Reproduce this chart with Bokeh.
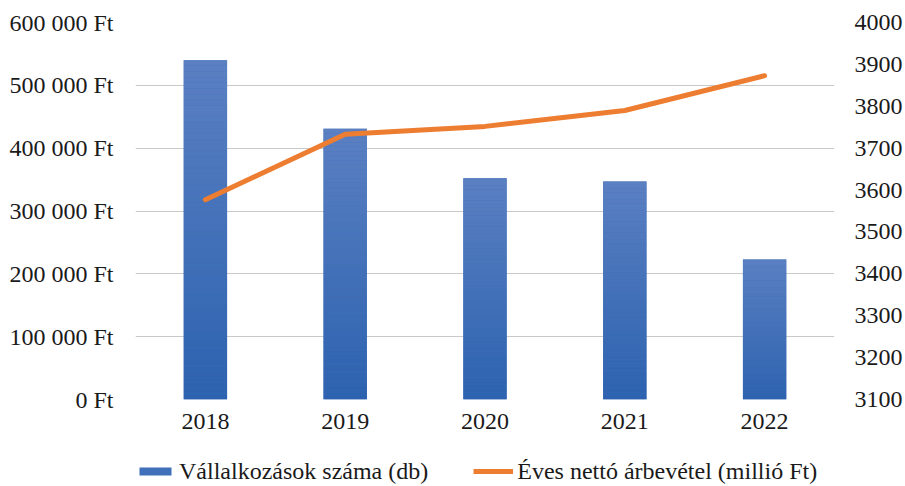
from bokeh.plotting import figure
from bokeh.models import (Range1d, LinearAxis, FixedTicker, Legend, LegendItem,
                          ColumnDataSource, FactorRange)
from bokeh.layouts import column
from bokeh.embed import file_html
from bokeh.resources import INLINE

# ---- data ----
years = ["2018", "2019", "2020", "2021", "2022"]
businesses = [540000, 431000, 352000, 347000, 223000]
revenue = [3577, 3733, 3752, 3790, 3873]
left_ticks = [0, 100000, 200000, 300000, 400000, 500000, 600000]
left_tick_labels = ["0 Ft", "100 000 Ft", "200 000 Ft", "300 000 Ft",
                    "400 000 Ft", "500 000 Ft", "600 000 Ft"]
right_ticks = [3100, 3200, 3300, 3400, 3500, 3600, 3700, 3800, 3900, 4000]
bar_label = "Vállalkozások száma (db)"
line_label = "Éves nettó árbevétel (millió Ft)"

FONT = "Liberation Serif"
FS = "24px"
TXT = "#1a1a1a"
BAR_C = "#4170bb"
LINE_C = "#ED7D31"

p = figure(width=905, height=446,
           x_range=FactorRange(*years, range_padding=0),
           y_range=Range1d(0, 600000),
           output_backend="svg", toolbar_location=None,
           min_border_left=135, min_border_right=71,
           min_border_top=22, min_border_bottom=47)
p.outline_line_color = None
p.background_fill_color = "white"
p.border_fill_color = "white"

# solid base bars
p.vbar(x=years, top=businesses, width=0.31, fill_color="#4470b9", line_color=None)

# gradient overlay built from slices of each bar's value
n = 60
top_rgb = (0x5b, 0x80, 0xc2)
bot_rgb = (0x2c, 0x62, 0xaf)
xs, bots, tops, cols = [], [], [], []
for yr, v in zip(years, businesses):
    for i in range(n):
        t = (i + 0.5) / n
        c = tuple(int(round(b + (a - b) * t)) for a, b in zip(top_rgb, bot_rgb))
        xs.append(yr)
        bots.append(v * i / n)
        tops.append(v * (i + 1) / n)
        cols.append("#%02x%02x%02x" % c)
src = ColumnDataSource(dict(x=xs, bottom=bots, top=tops, color=cols))
p.vbar(x="x", bottom="bottom", top="top", width=0.31, source=src,
       fill_color="color", line_color=None)

# right axis
p.extra_y_ranges = {"right": Range1d(3100, 4000)}
p.line(years, revenue, y_range_name="right", line_color=LINE_C,
       line_width=5, line_cap="round", line_join="round")

# axes
p.yaxis.ticker = FixedTicker(ticks=left_ticks)
p.yaxis.major_label_overrides = {t: l for t, l in zip(left_ticks, left_tick_labels)}
ra = LinearAxis(y_range_name="right", ticker=FixedTicker(ticks=right_ticks))
p.add_layout(ra, "right")

for ax in [p.yaxis[0], ra, p.xaxis[0]]:
    ax.axis_line_color = None
    ax.major_tick_line_color = None
    ax.minor_tick_line_color = None
    ax.major_tick_out = 0
    ax.major_tick_in = 0
    ax.minor_tick_out = 0
    ax.minor_tick_in = 0
    ax.major_label_text_font = FONT
    ax.major_label_text_font_size = FS
    ax.major_label_text_color = TXT
p.yaxis[0].major_label_standoff = 22
ra.major_label_standoff = 20
p.xaxis.major_label_standoff = 14

p.xgrid.grid_line_color = None
p.ygrid.grid_line_color = "#c9c9c9"
p.ygrid.grid_line_width = 1.2

# legend strip below the chart (legend renderers sit below the visible range)
lf = figure(width=905, height=40, x_range=Range1d(0, 1), y_range=Range1d(0, 1),
            x_axis_type=None, y_axis_type=None,
            output_backend="svg", toolbar_location=None,
            min_border=0, min_border_left=112, min_border_right=71,
            min_border_top=0, min_border_bottom=0)
lf.outline_line_color = None
lf.border_fill_color = "white"
lf.background_fill_color = "white"
lf.xgrid.grid_line_color = None
lf.ygrid.grid_line_color = None
lb = lf.vbar(x=[0.5], bottom=[-20], top=[-19], width=0.3, fill_color=BAR_C, line_color=None)
ll = lf.line(x=[0.2, 0.8], y=[-20, -20], line_color=LINE_C, line_width=5)

legend = Legend(items=[LegendItem(label=bar_label, renderers=[lb]),
                       LegendItem(label=line_label, renderers=[ll])],
                orientation="horizontal", location=(0, 1),
                border_line_color=None, background_fill_alpha=0,
                padding=0, margin=0, spacing=45,
                glyph_width=40, glyph_height=10, label_standoff=4,
                label_height=28,
                label_text_font=FONT, label_text_font_size=FS,
                label_text_color=TXT)
lf.add_layout(legend)

layout = column(p, lf, spacing=0)
open("out.html", "w").write(file_html(layout, INLINE))
